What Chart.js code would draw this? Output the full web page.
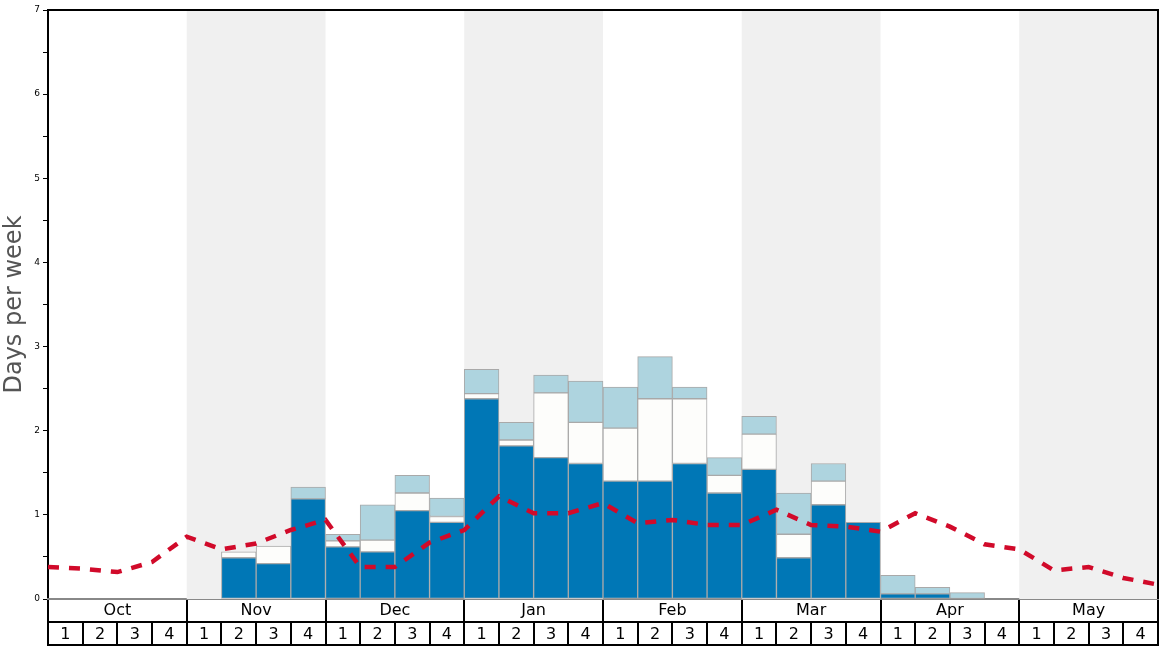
<!DOCTYPE html>
<html>
<head>
<meta charset="utf-8">
<script src="https://cdn.jsdelivr.net/npm/chart.js@4"></script>
<style>
  html, body { margin: 0; padding: 0; background: #fff; }
  #wrap { width: 1168px; height: 648px; }
</style>
</head>
<body>
<div id="wrap"><canvas id="daysChart" width="1168" height="648"></canvas></div>
<script>
const months = ['Oct', 'Nov', 'Dec', 'Jan', 'Feb', 'Mar', 'Apr', 'May'];
const weekLabels = ['1', '2', '3', '4'];
const weeks = months.flatMap(() => weekLabels);

// stacked segment heights per week (Oct wk1 .. May wk4)
const baseDays = [
  null, null, null, null,
  null, 0.49, 0.42, 1.19,
  0.62, 0.56, 1.05, 0.91,
  2.38, 1.82, 1.68, 1.61,
  1.40, 1.40, 1.61, 1.26,
  1.54, 0.49, 1.12, 0.91,
  0.06, 0.06, null, null,
  null, null, null, null
];
const extraDays = [
  null, null, null, null,
  null, 0.07, 0.21, null,
  0.07, 0.14, 0.21, 0.07,
  0.06, 0.07, 0.77, 0.49,
  0.63, 0.98, 0.77, 0.21,
  0.42, 0.28, 0.28, null,
  null, null, null, null,
  null, null, null, null
];
const topDays = [
  null, null, null, null,
  null, null, null, 0.14,
  0.08, 0.42, 0.21, 0.22,
  0.29, 0.21, 0.21, 0.49,
  0.49, 0.50, 0.14, 0.21,
  0.21, 0.49, 0.21, null,
  0.22, 0.08, 0.075, null,
  null, null, null, null
];
// average line, one value per week boundary (33 points)
const averageDays = [
  0.38, 0.36, 0.32, 0.44, 0.74, 0.59, 0.66, 0.82, 0.94,
  0.38, 0.38, 0.67, 0.82, 1.22, 1.02, 1.02, 1.14, 0.90,
  0.94, 0.88, 0.88, 1.06, 0.88, 0.86, 0.80, 1.02, 0.86,
  0.65, 0.59, 0.34, 0.38, 0.25, 0.17
];
const shadedMonths = [1, 3, 5, 7];

const FONT = 'DejaVu Sans';

// grey bands behind alternating months + frame lines
const framePlugin = {
  id: 'frame',
  beforeDatasetsDraw(chart) {
    const { ctx, chartArea } = chart;
    const xl = chart.scales.xl;
    ctx.save();
    ctx.fillStyle = '#f0f0f0';
    shadedMonths.forEach(m => {
      const x0 = xl.getPixelForValue(m * 4);
      const x1 = xl.getPixelForValue(m * 4 + 4);
      ctx.fillRect(x0, chartArea.top, x1 - x0, chartArea.bottom - chartArea.top);
    });
    ctx.restore();
  },
  afterDraw(chart) {
    const { ctx, chartArea } = chart;
    const wk = chart.scales.x;
    ctx.save();
    ctx.strokeStyle = '#000';
    ctx.lineWidth = 2;
    ctx.beginPath();
    ctx.moveTo(chartArea.left, chartArea.top);
    ctx.lineTo(chartArea.right, chartArea.top);
    ctx.lineTo(chartArea.right, chartArea.bottom);
    ctx.moveTo(chartArea.left, wk.bottom - 1);
    ctx.lineTo(chartArea.right, wk.bottom - 1);
    ctx.stroke();
    ctx.restore();
  }
};

const barStyle = {
  type: 'bar',
  xAxisID: 'x',
  stack: 'days',
  grouped: false,
  borderColor: '#a9a9a9',
  borderWidth: 1,
  borderSkipped: false,
  barPercentage: 1,
  categoryPercentage: 1,
  order: 1
};

const ctx = document.getElementById('daysChart').getContext('2d');

new Chart(ctx, {
  data: {
    labels: weeks,
    datasets: [
      { ...barStyle, label: 'Base', data: baseDays, backgroundColor: '#0077b6' },
      { ...barStyle, label: 'Extra', data: extraDays, backgroundColor: '#fdfdfb' },
      { ...barStyle, label: 'Top', data: topDays, backgroundColor: '#aed4df' },
      {
        type: 'line',
        label: 'Average',
        xAxisID: 'xl',
        data: averageDays.map((v, i) => ({ x: i, y: v })),
        borderColor: '#d10a2a',
        borderWidth: 4.5,
        borderDash: [11, 10],
        pointRadius: 0,
        tension: 0,
        fill: false,
        order: 0
      }
    ]
  },
  options: {
    responsive: false,
    animation: false,
    events: [],
    layout: { padding: { top: 10, right: 10, left: 0, bottom: 2 } },
    plugins: {
      legend: { display: false },
      tooltip: { enabled: false }
    },
    scales: {
      y: {
        stacked: true,
        min: 0,
        max: 7,
        afterFit: s => { s.width = 48; },
        ticks: {
          stepSize: 0.5,
          autoSkip: false,
          padding: 3,
          color: '#000',
          font: { family: FONT, size: 9 },
          callback: v => (Number.isInteger(v) ? v : '')
        },
        grid: { drawOnChartArea: false, tickLength: 5, color: '#000', lineWidth: 1 },
        border: { color: '#000', width: 2 },
        title: {
          display: true,
          text: 'Days per week',
          color: '#555',
          padding: { top: 0, bottom: 0 },
          font: { family: FONT, size: 24 }
        }
      },
      xm: {
        type: 'category',
        labels: months,
        position: 'bottom',
        weight: 1,
        offset: true,
        afterFit: s => { s.height = 23; },
        ticks: {
          autoSkip: false,
          maxRotation: 0,
          padding: -21,
          color: '#000',
          font: { family: FONT, size: 16 }
        },
        grid: { drawOnChartArea: false, offset: true, tickLength: 23, color: '#000', lineWidth: 2 },
        border: { color: '#888', width: 2 }
      },
      x: {
        type: 'category',
        stacked: true,
        position: 'bottom',
        weight: 2,
        offset: true,
        afterFit: s => { s.height = 24; },
        ticks: {
          autoSkip: false,
          maxRotation: 0,
          padding: -21,
          color: '#000',
          font: { family: FONT, size: 16 }
        },
        grid: { drawOnChartArea: false, offset: true, tickLength: 24, color: '#000', lineWidth: 2 },
        border: { color: '#000', width: 2 }
      },
      xl: {
        type: 'linear',
        display: false,
        min: 0,
        max: 32
      }
    }
  },
  plugins: [framePlugin]
});
</script>
</body>
</html>
